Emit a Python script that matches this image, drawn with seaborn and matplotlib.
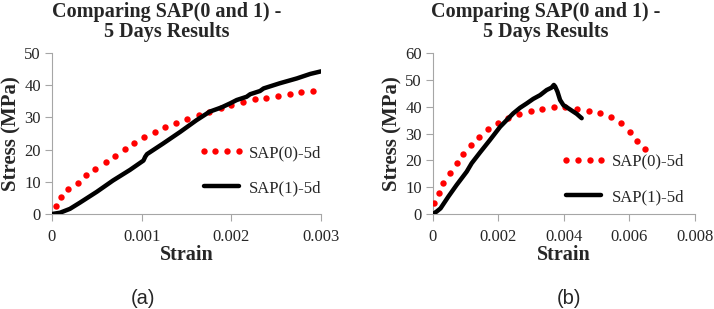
import numpy as np
import matplotlib
matplotlib.use("Agg")
import matplotlib.pyplot as plt
import seaborn as sns

#%% Daten

# (a) SAP(0)-5d
strain_a0 = [0.000045, 0.0001, 0.00018, 0.00029, 0.00038, 0.00048, 0.0006, 0.0007, 0.00081,
             0.00092, 0.00103, 0.00115, 0.00126, 0.00138, 0.00151, 0.00164, 0.00175, 0.00188,
             0.002, 0.00213, 0.00226, 0.00239, 0.00252, 0.00265, 0.00278, 0.00291]
stress_a0 = [2.6, 5.4, 7.7, 9.6, 12.0, 14.1, 16.0, 18.1, 20.1, 22.0, 23.8, 25.4, 27.1, 28.4,
             29.4, 30.6, 31.8, 32.9, 33.9, 34.9, 35.6, 36.1, 36.8, 37.3, 37.8, 38.2]

# (a) SAP(1)-5d
strain_a1 = [0, 0.00009, 0.0002, 0.00031, 0.0005, 0.00068, 0.00087, 0.00102, 0.00104, 0.00106,
             0.00124, 0.00143, 0.00161, 0.00176, 0.00189, 0.00199, 0.00206, 0.00217, 0.00221,
             0.00232, 0.00236, 0.00254, 0.00273, 0.00288, 0.003]
stress_a1 = [0, 0.4, 1.6, 3.5, 6.9, 10.4, 13.7, 16.6, 17.8, 18.6, 21.9, 25.5, 29.1, 31.8, 33.1,
             34.4, 35.4, 36.4, 37.2, 38.2, 39.0, 40.6, 42.1, 43.5, 44.3]

# (b) SAP(0)-5d
strain_b0 = [0.00003, 0.00017, 0.00032, 0.00052, 0.00072, 0.00093, 0.00115, 0.00141, 0.00169,
             0.00197, 0.0023, 0.00264, 0.00298, 0.00334, 0.00368, 0.00404, 0.00441, 0.00475,
             0.0051, 0.00544, 0.00575, 0.00602, 0.00624, 0.00646]
stress_b0 = [4.0, 8.0, 11.7, 15.2, 18.9, 22.5, 25.7, 28.8, 31.6, 33.8, 35.8, 37.3, 38.4, 39.3,
             40.0, 39.8, 39.3, 38.5, 37.5, 36.0, 33.8, 30.7, 27.3, 24.1]

# (b) SAP(1)-5d
strain_b1 = [0, 0.00011, 0.00023, 0.00047, 0.00072, 0.00103, 0.00118, 0.00144, 0.00174, 0.00205,
             0.00225, 0.00245, 0.00266, 0.00286, 0.00306, 0.00327, 0.00347, 0.00362, 0.00369,
             0.00373, 0.0038, 0.00388, 0.00398, 0.00418, 0.00439, 0.00454]
stress_b1 = [0, 0.9, 2.1, 6.5, 10.8, 15.8, 18.9, 23.0, 27.6, 32.5, 35.0, 37.5, 39.6, 41.2, 42.9,
             44.3, 46.2, 47.1, 48.1, 47.5, 45.6, 42.5, 40.6, 39.0, 37.3, 35.7]

title = "Comparing SAP(0 and 1) -\n5 Days Results"
lab0 = "SAP(0)-5d"
lab1 = "SAP(1)-5d"
xticks_a = [0, 0.001, 0.002, 0.003]
xlabels_a = ["0", "0.001", "0.002", "0.003"]
yticks_a = [0, 10, 20, 30, 40, 50]
xticks_b = [0, 0.002, 0.004, 0.006, 0.008]
xlabels_b = ["0", "0.002", "0.004", "0.006", "0.008"]
yticks_b = [0, 10, 20, 30, 40, 50, 60]

#%% Plot

sns.set_style("white")
plt.rcParams['font.family'] = ['Liberation Serif', 'DejaVu Serif']
grey = '#a6a6a6'

fig = plt.figure(figsize=(7.14, 3.09), dpi=100)
ax_a = fig.add_axes([52/714, 1-214/309, 269/714, 161/309])
ax_b = fig.add_axes([433/714, 1-214/309, 262/714, 161/309])

def panel(ax, x0, y0, x1, y1, xt, xl, yt, leg_xy):
    sns.lineplot(x=x0, y=y0, ax=ax, color='red', marker='o', markersize=4.6,
                 markeredgewidth=0, linestyle='none', label=lab0, sort=False, estimator=None)
    sns.lineplot(x=x1, y=y1, ax=ax, color='black', linewidth=3.2, label=lab1,
                 sort=False, estimator=None)
    ax.set_xlim(xt[0], xt[-1])
    ax.set_ylim(yt[0], yt[-1])
    ax.set_xticks(xt)
    ax.set_xticklabels(xl)
    ax.set_yticks(yt)
    ax.tick_params(axis='both', labelsize=12, direction='out', length=5, width=0.8,
                   color=grey, pad=3)
    ax.tick_params(axis='x', pad=6)
    ax.tick_params(axis='both', bottom=True, left=True)
    for s in ['top', 'right']:
        ax.spines[s].set_visible(False)
    for s in ['left', 'bottom']:
        ax.spines[s].set_color(grey)
        ax.spines[s].set_linewidth(0.8)
    ax.set_xlabel("Strain", fontsize=14.5, fontweight='bold', labelpad=0)
    ax.set_ylabel("Stress (MPa)", fontsize=15, fontweight='bold', labelpad=2)
    ax.legend(loc='center left', bbox_to_anchor=leg_xy, frameon=False, fontsize=12,
              numpoints=4, handlelength=2.7, handletextpad=0.3, labelspacing=1.15,
              borderpad=0, borderaxespad=0)
    for sp in ax.spines.values():
        sp.set_zorder(0)

panel(ax_a, strain_a0, stress_a0, strain_a1, stress_a1, xticks_a, xlabels_a, yticks_a, (0.545, 0.27))
panel(ax_b, strain_b0, stress_b0, strain_b1, stress_b1, xticks_b, xlabels_b, yticks_b, (0.49, 0.215))

fig.text(167/714, 1-22/309, title, ha='center', va='center', fontsize=14.5,
         fontweight='bold', linespacing=1.05)
fig.text(546/714, 1-22/309, title, ha='center', va='center', fontsize=14.5,
         fontweight='bold', linespacing=1.05)
fig.text(143/714, 1-299/309, "(a)", ha='center', va='center', fontsize=14.5,
         family=['Liberation Sans', 'DejaVu Sans'])
fig.text(569/714, 1-299/309, "(b)", ha='center', va='center', fontsize=14.5,
         family=['Liberation Sans', 'DejaVu Sans'])

fig.savefig("out.png", dpi=100)
